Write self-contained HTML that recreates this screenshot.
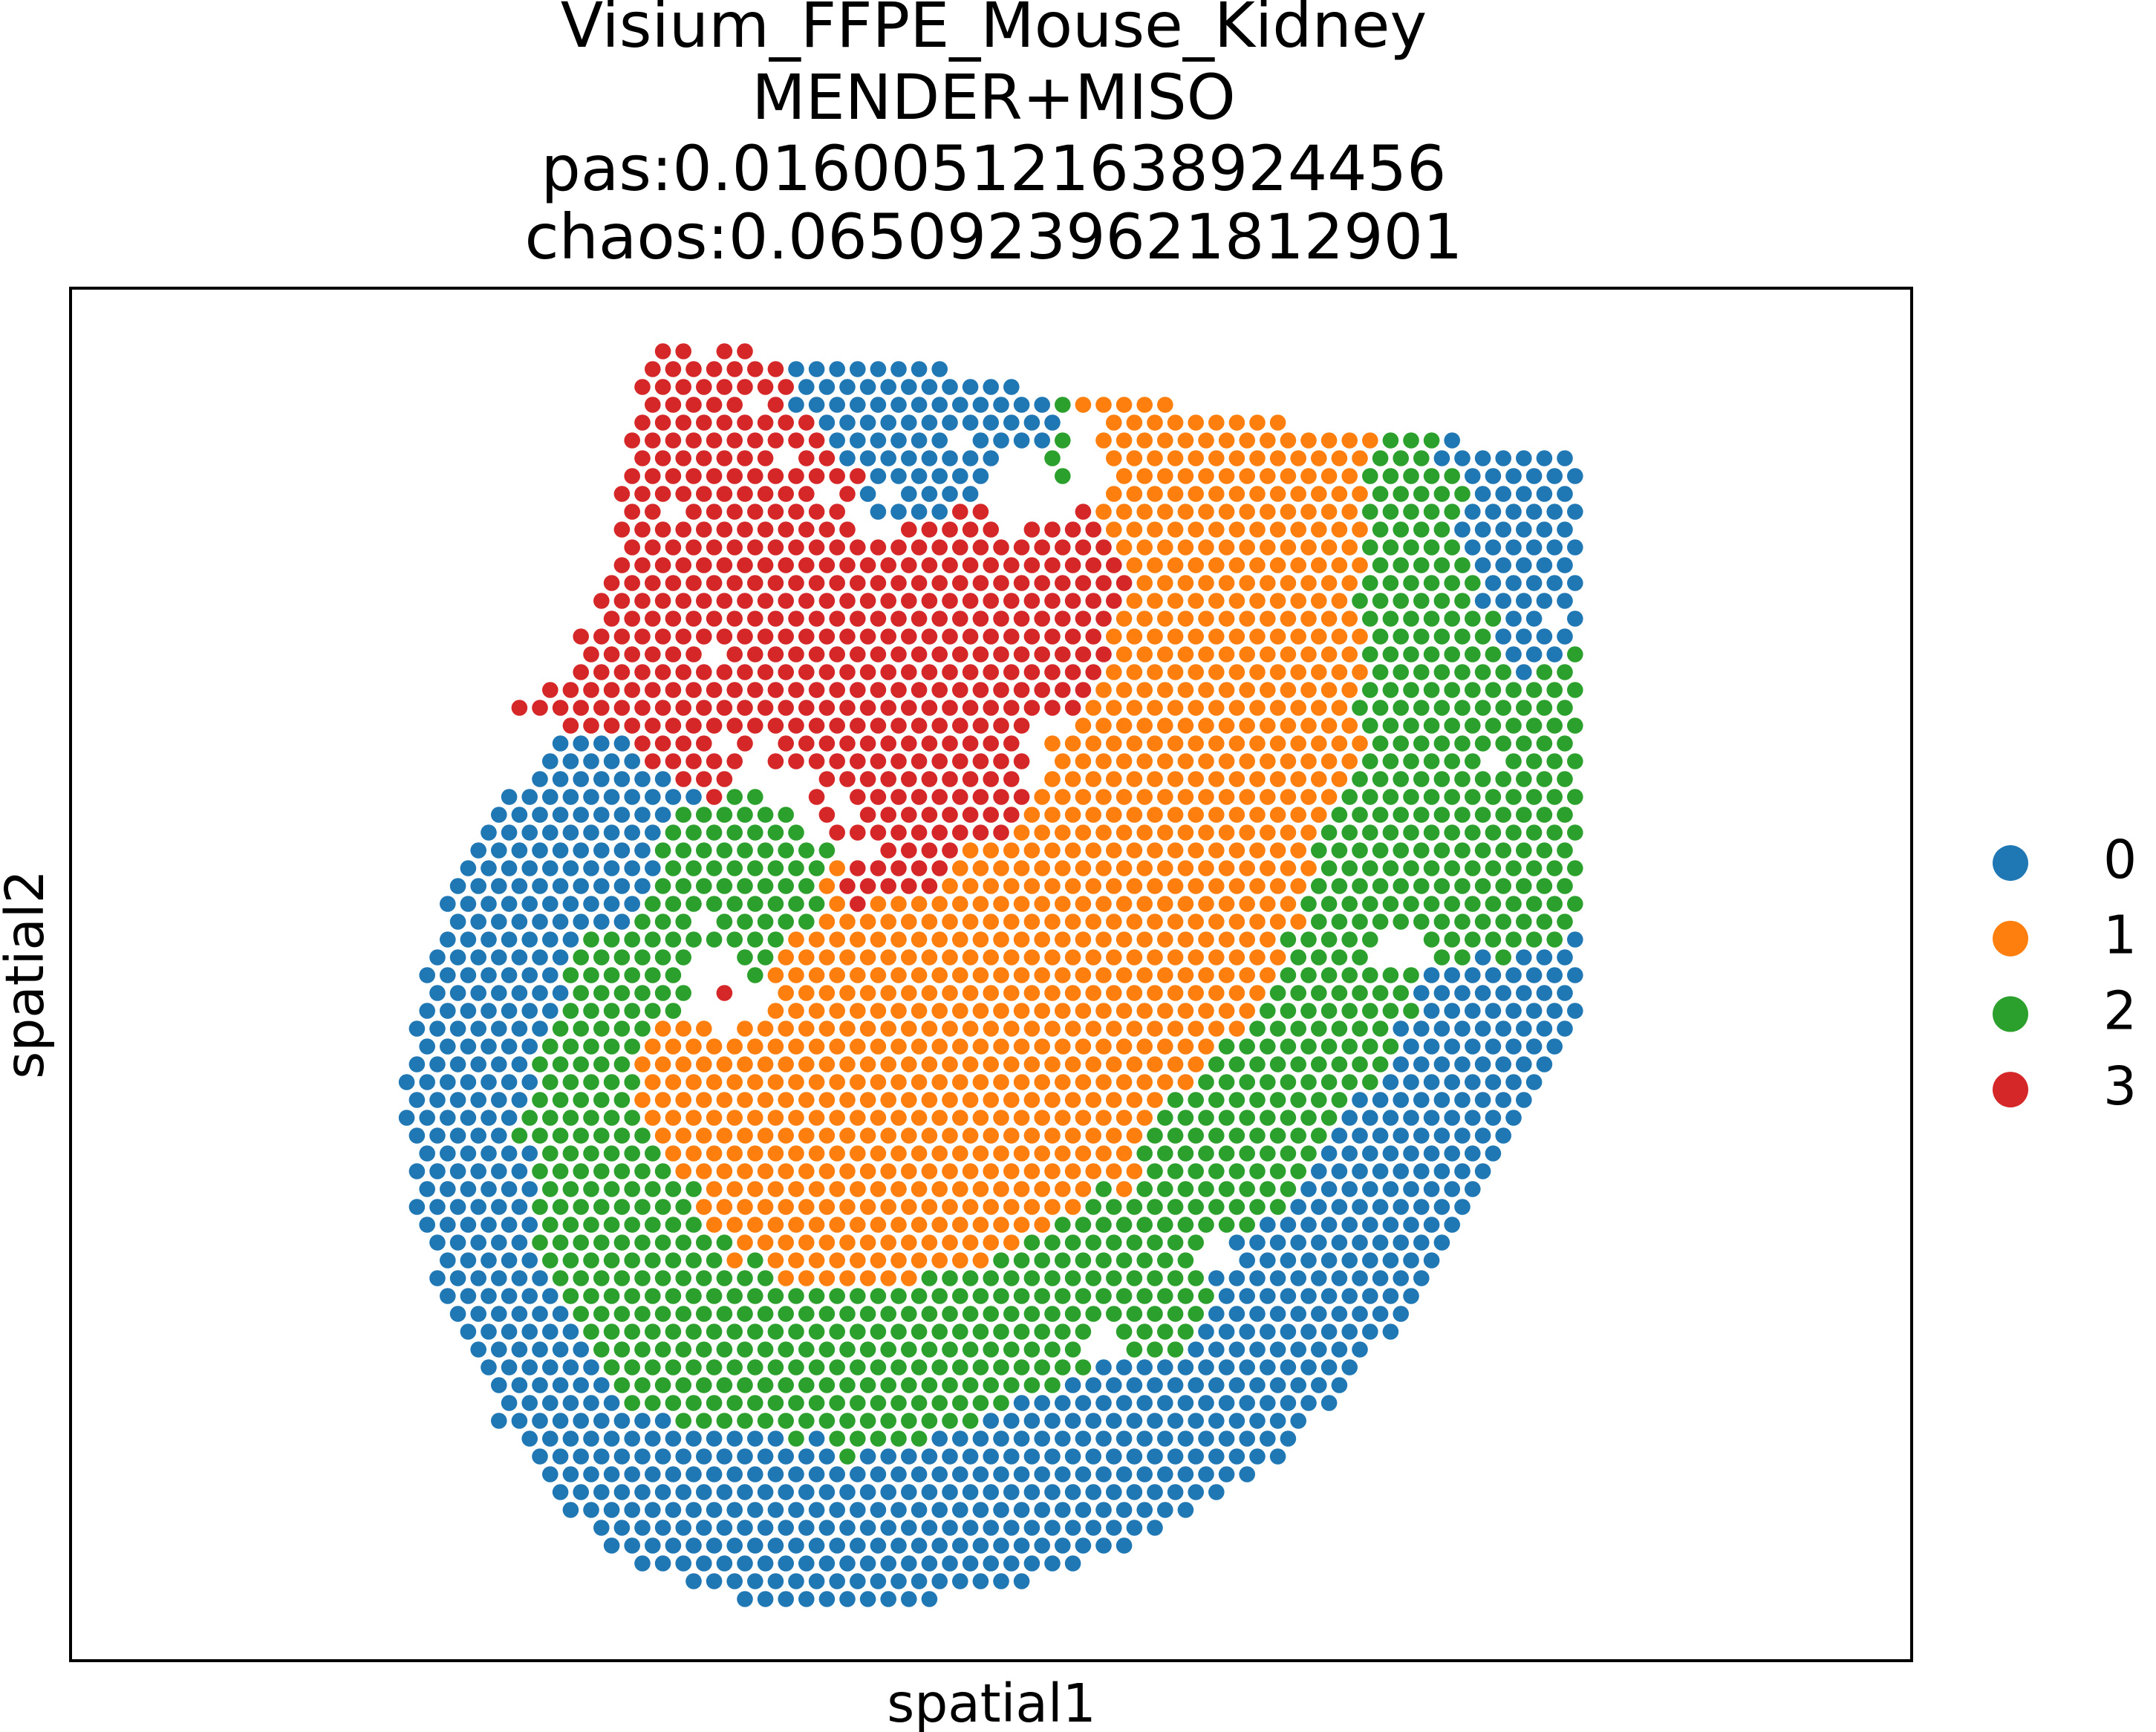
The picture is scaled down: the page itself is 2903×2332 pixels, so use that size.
<!DOCTYPE html>
<html><head><meta charset="utf-8"><style>
html,body{margin:0;padding:0;background:#fff;}
svg{display:block;}
text{font-family:"DejaVu Sans","Liberation Sans",sans-serif;fill:#000;}
</style></head>
<body>
<svg id="chart" width="2903" height="2332" viewBox="0 0 2903 2332" xmlns="http://www.w3.org/2000/svg">
<rect x="0" y="0" width="2903" height="2332" fill="#fff"/>
<g font-size="84" text-anchor="middle">
<text x="1338" y="63">Visium_FFPE_Mouse_Kidney</text>
<text x="1338" y="160">MENDER+MISO</text>
<text x="1338" y="256">pas:0.016005121638924456</text>
<text x="1338" y="348">chaos:0.06509239621812901</text>
</g>
<g id="points"></g>
<rect x="95" y="388" width="2479" height="1848" fill="none" stroke="#000" stroke-width="4"/>
<text x="1335" y="2318" font-size="71" text-anchor="middle">spatial1</text>
<text x="0" y="0" font-size="71" text-anchor="middle" transform="translate(58,1312) rotate(-90)">spatial2</text>
<g id="legend"></g>
</svg>
<script>
const clusterColors = ['#1f77b4','#ff7f0e','#2ca02c','#d62728'];
const legendLabels = ['0','1','2','3'];
const rowStart = [14,13,12,13,12,11,12,11,10,11,10,11,10,9,8,9,6,7,6,3,0,5,4,3,2,-1,-2,-3,-4,-5,-6,-7,-6,-7,-8,-9,-8,-9,-10,-9,-10,-11,-10,-11,-10,-9,-10,-9,-10,-9,-8,-7,-8,-7,-6,-5,-4,-3,-2,-1,-2,1,2,3,4,5,8,9,12,17,22];
const rowRuns = [
"32 .1 32",
"37 08",
"38 011",
"35 .1 31 013 21 15",
"39 012 .2 19",
"310 06 .1 04 21 .1 114 23 01",
"37 .1 32 08 .2 21 .2 113 23 07",
"312 06 .3 21 .2 112 25 06",
"310 .1 31 01 .1 04 .6 113 25 05",
"32 .1 38 .1 04 32 .4 31 113 25 06",
"312 .2 35 .1 34 113 24 06",
"324 112 25 06",
"325 112 25 05",
"326 111 26 05",
"326 111 26 05",
"325 112 27 02 .1 01",
"326 113 26 04",
"36 .1 319 112 27 03 21",
"326 113 27 01 22",
"327 113 211",
"328 113 211",
"323 .2 114 211",
"04 34 .1 31 .1 312 .1 116 210",
"05 35 .1 313 .1 115 26 .1 24",
"07 33 .4 310 .1 115 211",
"010 31 22 .2 31 .1 39 115 212",
"09 26 .1 31 .1 38 115 212",
"09 27 .1 39 115 213",
"09 29 .2 34 117 213",
"010 28 11 35 118 213",
"010 28 11 35 118 213",
"010 29 11 31 121 214",
"09 23 .1 25 124 213",
"07 210 124 25 .2 27 01",
"07 26 .2 22 125 24 .3 22 01 21 03",
"07 26 .3 21 125 27 08",
"07 26 .1 31 .2 124 27 08",
"07 26 .4 124 28 08",
"07 25 13 .1 125 27 09",
"06 25 128 29 08",
"06 25 128 29 08",
"07 25 127 29 08",
"06 25 126 29 09",
"06 26 125 29 09",
"05 27 124 29 09",
"06 26 123 29 09",
"06 27 123 28 09",
"06 28 119 21 11 28 09",
"06 28 119 210 09",
"06 28 117 210 010",
"05 210 114 29 .1 011",
"05 29 11 21 111 210 .2 010",
"06 211 17 214 011",
"06 232 010",
"06 231 010",
"06 225 .1 24 010",
"06 224 .2 23 09",
"06 224 013",
"06 222 014",
"06 219 016",
"09 215 016",
"013 21 01 25 018",
"015 21 021",
"035",
"033",
"031",
"028",
"026",
"022",
"017",
"010"
];
const NS = 'http://www.w3.org/2000/svg';
function xScale(col){ return 699.4 + col * 13.8; }
function yScale(row){ return 473 + row * 24.0; }
const pts = document.getElementById('points');
for (let r = 0; r < rowRuns.length; r++) {
  let c = rowStart[r];
  const toks = rowRuns[r].split(' ');
  for (const t of toks) {
    const lab = t[0];
    const n = parseInt(t.slice(1), 10);
    for (let i = 0; i < n; i++) {
      if (lab !== '.') {
        const el = document.createElementNS(NS, 'circle');
        el.setAttribute('cx', xScale(c).toFixed(1));
        el.setAttribute('cy', yScale(r).toFixed(1));
        el.setAttribute('r', '10.8');
        el.setAttribute('fill', clusterColors[+lab]);
        
        
        pts.appendChild(el);
      }
      c += 2;
    }
  }
}
const leg = document.getElementById('legend');
for (let i = 0; i < legendLabels.length; i++) {
  const cy = 1162 + i * 101.7;
  const dot = document.createElementNS(NS, 'circle');
  dot.setAttribute('cx', '2707');
  dot.setAttribute('cy', cy.toFixed(1));
  dot.setAttribute('r', '24');
  dot.setAttribute('fill', clusterColors[i]);
  
  
  leg.appendChild(dot);
  const tx = document.createElementNS(NS, 'text');
  tx.setAttribute('x', '2832');
  tx.setAttribute('y', (cy + 20).toFixed(1));
  tx.setAttribute('font-size', '71');
  tx.textContent = legendLabels[i];
  
  
  leg.appendChild(tx);
}
</script>
</body></html>
